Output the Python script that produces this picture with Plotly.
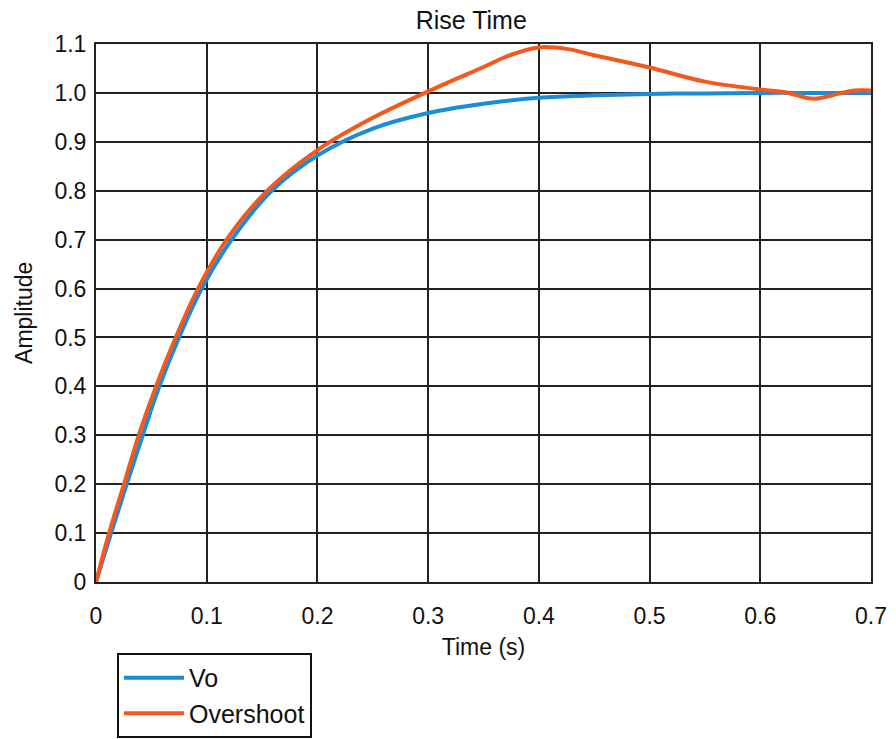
import plotly.graph_objects as go

# Vo response (time in s, amplitude)
vo_t = [0, 0.0136, 0.0277, 0.0422, 0.0572, 0.075, 0.0955, 0.1225, 0.1587, 0.2,
        0.25, 0.3, 0.35, 0.4, 0.45, 0.5, 0.55, 0.6, 0.65, 0.7]
vo_y = [0, 0.1, 0.2, 0.3, 0.4, 0.5, 0.6, 0.7, 0.8, 0.872,
        0.927, 0.959, 0.978, 0.990, 0.995, 0.998, 0.999, 1.0, 1.0, 1.0]

# Overshoot response
ov_t = [0, 0.0118, 0.0253, 0.0386, 0.0542, 0.072, 0.0922, 0.118, 0.1547, 0.2,
        0.25, 0.3, 0.35, 0.375, 0.4, 0.425, 0.45, 0.5, 0.55, 0.6, 0.625, 0.648, 0.67, 0.685, 0.7]
ov_y = [0, 0.1, 0.2, 0.3, 0.4, 0.5, 0.6, 0.7, 0.8, 0.883,
        0.949, 1.003, 1.053, 1.078, 1.093, 1.09, 1.077, 1.052, 1.023, 1.007, 1.0, 0.988, 0.998, 1.005, 1.005]

x_ticks = [0, 0.1, 0.2, 0.3, 0.4, 0.5, 0.6, 0.7]
x_labels = ["0", "0.1", "0.2", "0.3", "0.4", "0.5", "0.6", "0.7"]
y_ticks = [0, 0.1, 0.2, 0.3, 0.4, 0.5, 0.6, 0.7, 0.8, 0.9, 1.0, 1.1]
y_labels = ["0", "0.1", "0.2", "0.3", "0.4", "0.5", "0.6", "0.7", "0.8", "0.9", "1.0", "1.1"]

FONT = "Liberation Sans, Arial, sans-serif"
FS = 23

fig = go.Figure()
fig.add_trace(go.Scatter(x=vo_t, y=vo_y, mode="lines", name="Vo",
                         line=dict(color="#1b8cd6", width=4, shape="spline", smoothing=1.0)))
fig.add_trace(go.Scatter(x=ov_t, y=ov_y, mode="lines", name="Overshoot",
                         line=dict(color="#f3581d", width=4, shape="spline", smoothing=1.0)))

axis_common = dict(showgrid=True, gridcolor="#222222", gridwidth=2,
                   showline=True, linecolor="#222222", linewidth=2, mirror=True,
                   zeroline=False,
                   tickfont=dict(size=FS, color="#111111", family=FONT))

fig.update_layout(
    width=896, height=739,
    margin=dict(l=96, r=25, t=44, b=157, autoexpand=False),
    paper_bgcolor="white", plot_bgcolor="white",
    font=dict(family=FONT, color="#111111"),
    title=dict(text="Rise Time", x=0.526, xanchor="center", y=0.973, yanchor="middle",
               font=dict(size=25, family=FONT)),
    xaxis=dict(range=[0, 0.7], tickvals=x_ticks, ticktext=x_labels,
               ticks="outside", ticklen=12, tickcolor="rgba(0,0,0,0)",
               title=dict(text="Time (s)", font=dict(size=FS), standoff=11), **axis_common),
    yaxis=dict(range=[0, 1.1], tickvals=y_ticks, ticktext=y_labels,
               ticks="outside", ticklen=3, tickcolor="rgba(0,0,0,0)", **axis_common),
    legend=dict(xref="container", yref="container", x=0.1306, y=0.1164,
                xanchor="left", yanchor="top",
                bordercolor="#111111", borderwidth=2, bgcolor="white",
                font=dict(size=25, family=FONT), tracegroupgap=0, itemwidth=60),
    showlegend=True,
)

fig.add_annotation(text="Amplitude", textangle=-90, xref="paper", yref="paper",
                   x=-0.093, y=0.5, xanchor="center", yanchor="middle", showarrow=False,
                   font=dict(size=FS, family=FONT, color="#111111"))

fig.write_html("out.html", config={"displayModeBar": False},
               post_script="document.body.style.margin='0';document.body.style.overflow='hidden';")
